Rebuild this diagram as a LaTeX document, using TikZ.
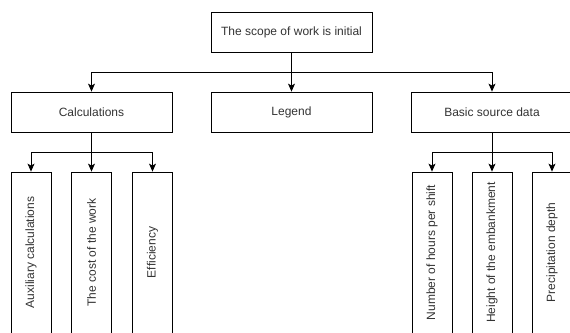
\documentclass[tikz,border=0pt]{standalone}
\usepackage{fontspec}
\setmainfont{Liberation Sans}
\usepackage{graphicx}
\usetikzlibrary{arrows.meta}
\begin{document}
\begin{tikzpicture}[node distance=200pt,
    box/.style={draw, line width=0.8pt, minimum width=161pt, minimum height=40pt,
      inner sep=0pt, text=black!80, font=\fontsize{12}{14}\selectfont},
    leaf/.style={draw, line width=0.8pt, minimum width=40pt, minimum height=161pt,
      inner sep=0pt, text=black!80, font=\fontsize{12}{14}\selectfont},
    arr/.style={line width=0.8pt, -{Stealth[length=8pt, width=7pt, inset=2pt]}}]
    \clip (0,0) rectangle (570pt,-332pt);
    \node[box] (top) at (291.5pt,-32pt) {The scope of work is initial};
    \node[box, below of=top, node distance=80pt] (legend) {Legend};
    \node[box, left of=legend] (calc) {Calculations};
    \node[box, right of=legend, node distance=200.5pt] (basic) {Basic source data};
    \node[leaf, below of=calc, node distance=140.5pt] (cost) {\rotatebox{90}{The cost of the work}};
    \node[leaf, left of=cost, node distance=60.5pt] (aux) {\rotatebox{90}{Auxiliary calculations}};
    \node[leaf, right of=cost, node distance=61pt] (eff) {\rotatebox{90}{Efficiency}};
    \node[leaf, below of=basic, node distance=140.5pt] (height) {\rotatebox{90}{Height of the embankment}};
    \node[leaf, left of=height, node distance=60pt] (hours) {\rotatebox{90}{Number of hours per shift}};
    \node[leaf, right of=height, node distance=60pt] (depth) {\rotatebox{90}{Precipitation depth}};
    \draw[arr] (top) -- (legend);
    \draw[arr] (top.south) -- ++(0,-20pt) -| (calc.north);
    \draw[arr] (top.south) -- ++(0,-20pt) -| (basic.north);
    \draw[arr] (calc) -- (cost);
    \draw[arr] (calc.south) -- ++(0,-20pt) -| (aux.north);
    \draw[arr] (calc.south) -- ++(0,-20pt) -| (eff.north);
    \draw[arr] (basic) -- (height);
    \draw[arr] (basic.south) -- ++(0,-20pt) -| (hours.north);
    \draw[arr] (basic.south) -- ++(0,-20pt) -| (depth.north);
\end{tikzpicture}
\end{document}
